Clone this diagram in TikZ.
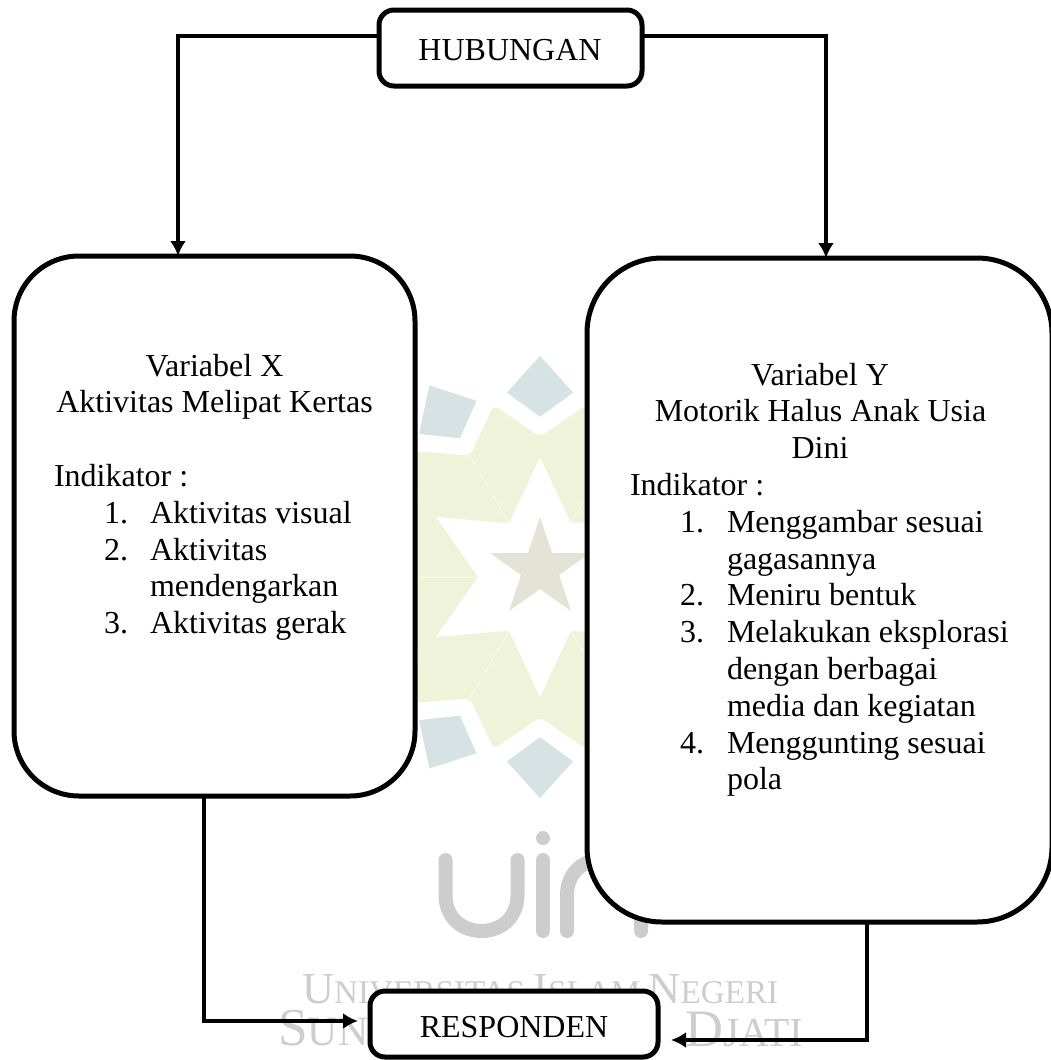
\documentclass[tikz,border=0pt]{standalone}
\usepackage{fontspec}
\usepackage{graphicx}
\setmainfont{Liberation Serif}
\usetikzlibrary{arrows.meta}
\definecolor{wmgreen}{HTML}{EEF3D9}
\definecolor{wmblue}{HTML}{D6E2E3}
\definecolor{wmstar}{HTML}{E5E3D6}
\definecolor{wmgray}{HTML}{CDCDCD}
\tikzset{
  box/.style={draw=black,fill=white,line width=5pt,rounded corners=#1,outer sep=0pt,inner sep=0pt},
  conn/.style={draw=black,line width=4pt,-{Latex[length=15pt,width=16pt]}},
  lbl/.style={anchor=base west,inner sep=0pt,outer sep=0pt,font=\fontsize{32}{36}\selectfont,text=black},
  clbl/.style={lbl,anchor=base},
  wmtext/.style={anchor=base west,inner sep=0pt,text=wmgray},
  wmstroke/.style={wmgray,line width=14pt,line cap=round}
}
\begin{document}
\begin{tikzpicture}[x=1pt,y=-1pt]
\useasboundingbox (0,0) rectangle (1051,1060);
% watermark
\fill[wmgreen,rounded corners=6pt]
  plot[samples at={0,15,...,345}] ({540+(mod(\x,30)==0?140:178)*cos(\x)},{577+(mod(\x,30)==0?140:178)*sin(\x)}) -- cycle;
\foreach \a in {0,60,...,300}{
  \draw[white!55!wmgreen,line width=1pt] ({540+62*cos(\a)},{577+62*sin(\a)}) -- ({540+140*cos(\a)},{577+140*sin(\a)});
}
\foreach \a in {0,30,...,330}{
  \fill[wmblue,draw=white,line width=5pt,rotate around={\a:(540,577)}]
    (540,352) -- (577,393) -- (540,420) -- (503,393) -- cycle;
}
\fill[white] plot[samples at={0,30,...,330}] ({540+(mod(\x,60)==30?120:62)*cos(\x)},{577+(mod(\x,60)==30?120:62)*sin(\x)}) -- cycle;
\fill[wmstar]
  (540,517) -- (552,553) -- (590,553) -- (559,575) -- (571,611) -- (540,589) -- (509,611) -- (521,575) -- (490,553) -- (528,553) -- cycle;
\draw[wmstroke] (445.5,860) -- (445.5,895) .. controls (445.5,943) and (517.5,943) .. (517.5,895) -- (517.5,860);
\fill[wmgray] (543,838) circle (7);
\draw[wmstroke] (543,860) -- (543,931);
\draw[wmstroke] (567,931) -- (567,895) .. controls (567,847) and (641,847) .. (641,895) -- (641,931);
\node[wmtext] (wm1) at (302,1003) {\resizebox{476pt}{!}{\fontsize{36}{36}\selectfont U\fontsize{27}{27}\selectfont NIVERSITAS \fontsize{36}{36}\selectfont I\fontsize{27}{27}\selectfont SLAM \fontsize{36}{36}\selectfont N\fontsize{27}{27}\selectfont EGERI}};
\node[wmtext] (wm2) at (278,1045) {\resizebox{90pt}{!}{\fontsize{46}{46}\selectfont S\fontsize{36}{36}\selectfont UN}};
\node[wmtext] (wm3) at (685,1046) {\resizebox{118pt}{!}{\fontsize{46}{46}\selectfont D\fontsize{36}{36}\selectfont JATI}};
% boxes
\node[box=15pt,minimum width=263pt,minimum height=76pt] (hub) at (510.5,48) {};
\node[box=65pt,minimum width=401pt,minimum height=540pt] (varx) at (214.5,526) {};
\node[box=75pt,minimum width=465pt,minimum height=664pt] (vary) at (819.5,590) {};
\node[box=15pt,minimum width=288pt,minimum height=66pt] (resp) at (514,1024) {};
% labels
\node[clbl] (hubt) at (510,60) {HUBUNGAN};
\node[clbl] (respt) at (514,1037) {RESPONDEN};
\node[clbl] (x1) at (214.5,376) {Variabel X};
\node[clbl] (x2) at (214.5,412.8) {Aktivitas Melipat Kertas};
\node[lbl] (x3) at (54,486.4) {Indikator :};
\node[lbl] (x4n) at (104,523.2) {1.};
\node[lbl] (x4) at (150,523.2) {Aktivitas visual};
\node[lbl] (x5n) at (104,560) {2.};
\node[lbl] (x5) at (150,560) {Aktivitas};
\node[lbl] (x6) at (150,596.8) {mendengarkan};
\node[lbl] (x7n) at (104,633.6) {3.};
\node[lbl] (x7) at (150,633.6) {Aktivitas gerak};
\node[clbl] (y1) at (820,385) {Variabel Y};
\node[clbl] (y2) at (820.5,421.8) {Motorik Halus Anak Usia};
\node[clbl] (y3) at (820,458.6) {Dini};
\node[lbl] (y4) at (630,495.4) {Indikator :};
\node[lbl] (y5n) at (680,532.2) {1.};
\node[lbl] (y5) at (727,532.2) {Menggambar sesuai};
\node[lbl] (y6) at (727,569) {gagasannya};
\node[lbl] (y7n) at (680,605.8) {2.};
\node[lbl] (y7) at (727,605.8) {Meniru bentuk};
\node[lbl] (y8n) at (680,642.6) {3.};
\node[lbl] (y8) at (727,642.6) {Melakukan eksplorasi};
\node[lbl] (y9) at (727,679.4) {dengan berbagai};
\node[lbl] (y10) at (727,716.2) {media dan kegiatan};
\node[lbl] (y11n) at (680,753) {4.};
\node[lbl] (y11) at (727,753) {Menggunting sesuai};
\node[lbl] (y12) at (727,789.8) {pola};
% connectors
\draw[conn] ([yshift=12pt]hub.west) -| ([xshift=-36.5pt]varx.north);
\draw[conn] ([yshift=12pt]hub.east) -| ([xshift=6.5pt]vary.north);
\draw[conn] ([xshift=-10.5pt]varx.south) |- ([yshift=3pt,xshift=-12pt]resp.west);
\draw[conn] ([xshift=47.5pt]vary.south) |- ([yshift=-16pt,xshift=13pt]resp.east);
\end{tikzpicture}
\end{document}
